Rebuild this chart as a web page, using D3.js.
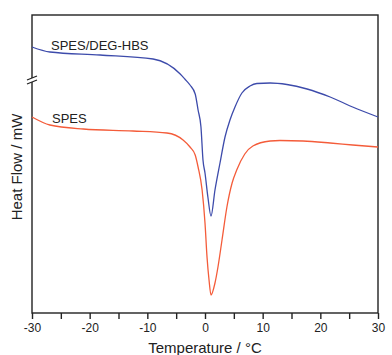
<!DOCTYPE html>
<html>
<head>
<meta charset="utf-8">
<script src="https://cdn.jsdelivr.net/npm/d3@7"></script>
<style>
  body { margin: 0; background: #fff; }
  text { font-family: "Liberation Sans", Arial, sans-serif; }
</style>
</head>
<body>
<div id="chart"></div>
<script>
// DSC traces, heat flow in arbitrary units (stacked)
const temps_blend = [-30, -26.9, -18.2, -9.0, -4.3, -3.5, -2.6, -1.7, -1.2, -0.7, -0.35, 0, 0.5, 1.04, 1.73, 2.6, 3.47, 4.33, 5.2, 6.4, 7.8, 9.0, 11.3, 14.2, 17.7, 21.7, 25.6, 30];
const flow_blend  = [266, 261, 258, 254, 239, 234, 228, 219, 203, 186, 153, 140, 116, 97, 123, 150, 176, 193, 206, 220, 227, 229.5, 230, 228.5, 224, 216, 206, 196];
const temps_spes  = [-30, -26.9, -21.1, -12.5, -6.6, -3.8, -2.6, -1.7, -1.2, -0.5, 0, 0.35, 0.7, 1.04, 1.73, 2.25, 2.95, 3.8, 4.7, 5.5, 6.9, 8.3, 11.3, 13, 17, 21.7, 25.6, 30];
const flow_spes   = [196, 188, 184, 182, 180, 173, 166, 158, 146, 123, 90, 56, 33, 18, 30, 46, 73, 106, 130, 143, 159, 167, 172, 172.5, 172, 170, 168, 166];
const seriesNames = ["SPES/DEG-HBS", "SPES"];
const xTicks = [-30, -20, -10, 0, 10, 20, 30];

const width = 392, height = 355;
const margin = {top: 15, right: 14, bottom: 42, left: 32};

const svg = d3.select("#chart").append("svg")
    .attr("width", width)
    .attr("height", height);

const x = d3.scaleLinear([-30, 30], [margin.left, width - margin.right]);
const y = d3.scaleLinear([0, 298], [height - margin.bottom, margin.top]);

const line = d3.line()
    .x(d => x(d[0]))
    .y(d => y(d[1]))
    .curve(d3.curveMonotoneX);

// frame
svg.append("rect")
    .attr("x", x(-30)).attr("y", y(298))
    .attr("width", x(30) - x(-30)).attr("height", y(0) - y(298))
    .attr("fill", "none").attr("stroke", "#222").attr("stroke-width", 1.4);

// x axis
const gx = svg.append("g")
    .attr("transform", `translate(0,${y(0)})`)
    .call(d3.axisBottom(x).tickValues(d3.range(-30, 31, 5))
        .tickSize(6).tickPadding(4)
        .tickFormat(d => xTicks.includes(d) ? d : ""));
gx.select(".domain").remove();
gx.selectAll("line").attr("stroke", "#222").attr("stroke-width", 1.4);
gx.selectAll("text").attr("font-size", 12).attr("fill", "#222");

// axis break on left
const by = 80;
svg.append("rect").attr("x", x(-30) - 5).attr("y", by - 2).attr("width", 10).attr("height", 4).attr("fill", "#fff");
[-2, 2].forEach(o => {
  svg.append("line")
    .attr("x1", x(-30) - 5).attr("y1", by + o + 2)
    .attr("x2", x(-30) + 5).attr("y2", by + o - 2)
    .attr("stroke", "#222").attr("stroke-width", 1.2);
});

// curves
const series = [
  {name: seriesNames[0], color: "#3d4bab", pts: d3.zip(temps_blend, flow_blend)},
  {name: seriesNames[1], color: "#f45c3a", pts: d3.zip(temps_spes, flow_spes)}
];
svg.append("g").selectAll("path")
  .data(series)
  .join("path")
    .attr("fill", "none")
    .attr("stroke", d => d.color)
    .attr("stroke-width", 1.3)
    .attr("d", d => line(d.pts));

// labels
svg.append("text").attr("x", 51).attr("y", 50).attr("font-size", 13).attr("fill", "#222").text(seriesNames[0]);
svg.append("text").attr("x", 52).attr("y", 123).attr("font-size", 13).attr("fill", "#222").text(seriesNames[1]);

// axis titles
svg.append("text")
    .attr("x", x(0)).attr("y", 353)
    .attr("text-anchor", "middle").attr("font-size", 15).attr("fill", "#222")
    .text("Temperature / °C");
svg.append("text")
    .attr("transform", `translate(22,${167}) rotate(-90)`)
    .attr("text-anchor", "middle").attr("font-size", 15).attr("fill", "#222")
    .text("Heat Flow / mW");
</script>
</body>
</html>
